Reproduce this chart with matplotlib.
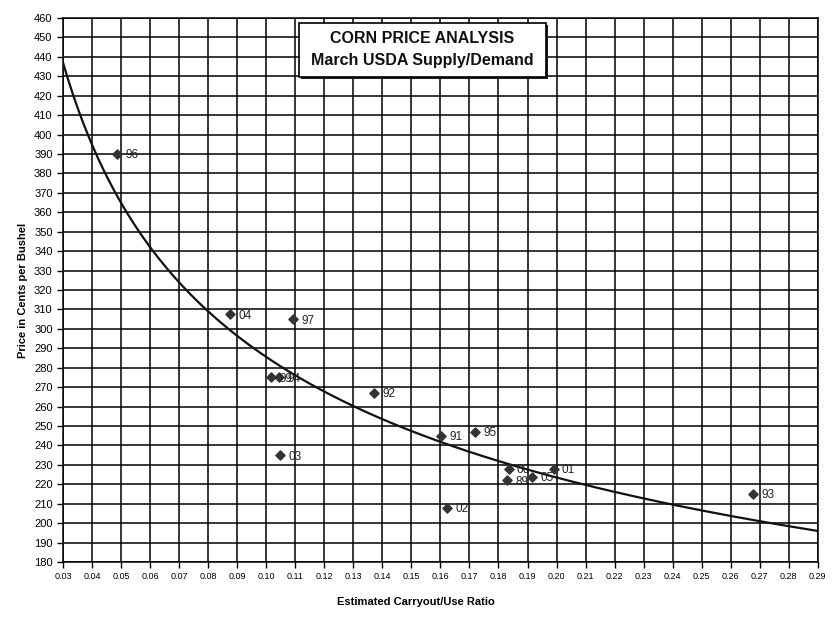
import matplotlib.pyplot as plt
import matplotlib.patches as mpatches
import numpy as np

plt.rcParams['font.family'] = ['Liberation Sans', 'DejaVu Sans']

# carryout/use ratio, price (cents/bu), crop year label
ratio = [0.0486, 0.0875, 0.1092, 0.1017, 0.1043, 0.1371, 0.1602, 0.1719,
         0.1047, 0.1622, 0.2676, 0.1990, 0.1835, 0.1830, 0.1915]
price = [390, 307.5, 305, 275, 275, 267, 245, 247,
         235, 208, 215, 228, 228, 222, 224]
years = ["96", "04", "97", "99", "94", "92", "91", "95",
         "03", "02", "93", "01", "00", "89", "05"]

# power trendline: price = a * ratio^b
trend_a = 126.5
trend_b = -0.3536

x_ticks = np.round(np.arange(0.03, 0.2901, 0.01), 2)
y_ticks = np.arange(180, 461, 10)

fig = plt.figure(figsize=(8.32, 6.22), dpi=100)
ax = fig.add_axes([0.0757, 0.0965, 0.9073, 0.8745])

xs = np.linspace(0.03, 0.29, 300)
ax.plot(xs, trend_a * xs ** trend_b, color="#111111", lw=1.6, zorder=3)

ax.scatter(ratio, price, marker="D", s=22, color="#333333", zorder=4)
for x, y, t in zip(ratio, price, years):
    ax.annotate(t, (x, y), xytext=(6, -1), textcoords="offset points",
                fontsize=8.5, va="center", ha="left", color="#222222", zorder=5)

ax.set_xlim(0.03, 0.29)
ax.set_ylim(180, 460)
ax.set_xticks(x_ticks)
ax.set_xticklabels([f"{v:.2f}" for v in x_ticks], fontsize=6.5)
ax.set_yticks(y_ticks)
ax.set_yticklabels([str(v) for v in y_ticks], fontsize=8)
ax.tick_params(direction="out", length=4, width=1, color="black")
ax.grid(True, color="black", lw=1.1)
ax.set_axisbelow(True)
for s in ax.spines.values():
    s.set_color("black")
    s.set_linewidth(1.1)

ax.set_ylabel("Price in Cents per Bushel", fontsize=8, fontweight="bold", labelpad=4)
fig.text(0.5, 0.027, "Estimated Carryout/Use Ratio", fontsize=8, fontweight="bold", ha="center")

# title box with a small drop shadow
bx, by, bw, bh = 0.3126, 0.8915, 0.3271, 0.0993
ax.add_patch(mpatches.Rectangle((bx + 0.003, by - 0.004), bw, bh, transform=ax.transAxes,
                                fc="#222222", ec="none", zorder=6))
ax.add_patch(mpatches.Rectangle((bx, by), bw, bh, transform=ax.transAxes,
                                fc="white", ec="black", lw=1.2, zorder=7))
ax.text(bx + bw / 2, 0.963, "CORN PRICE ANALYSIS", transform=ax.transAxes,
        ha="center", va="center", fontsize=11.5, fontweight="bold", color="#111111", zorder=8)
ax.text(bx + bw / 2, 0.9225, "March USDA Supply/Demand", transform=ax.transAxes,
        ha="center", va="center", fontsize=11.5, fontweight="bold", color="#111111", zorder=8)

fig.savefig("out.png", dpi=100)
